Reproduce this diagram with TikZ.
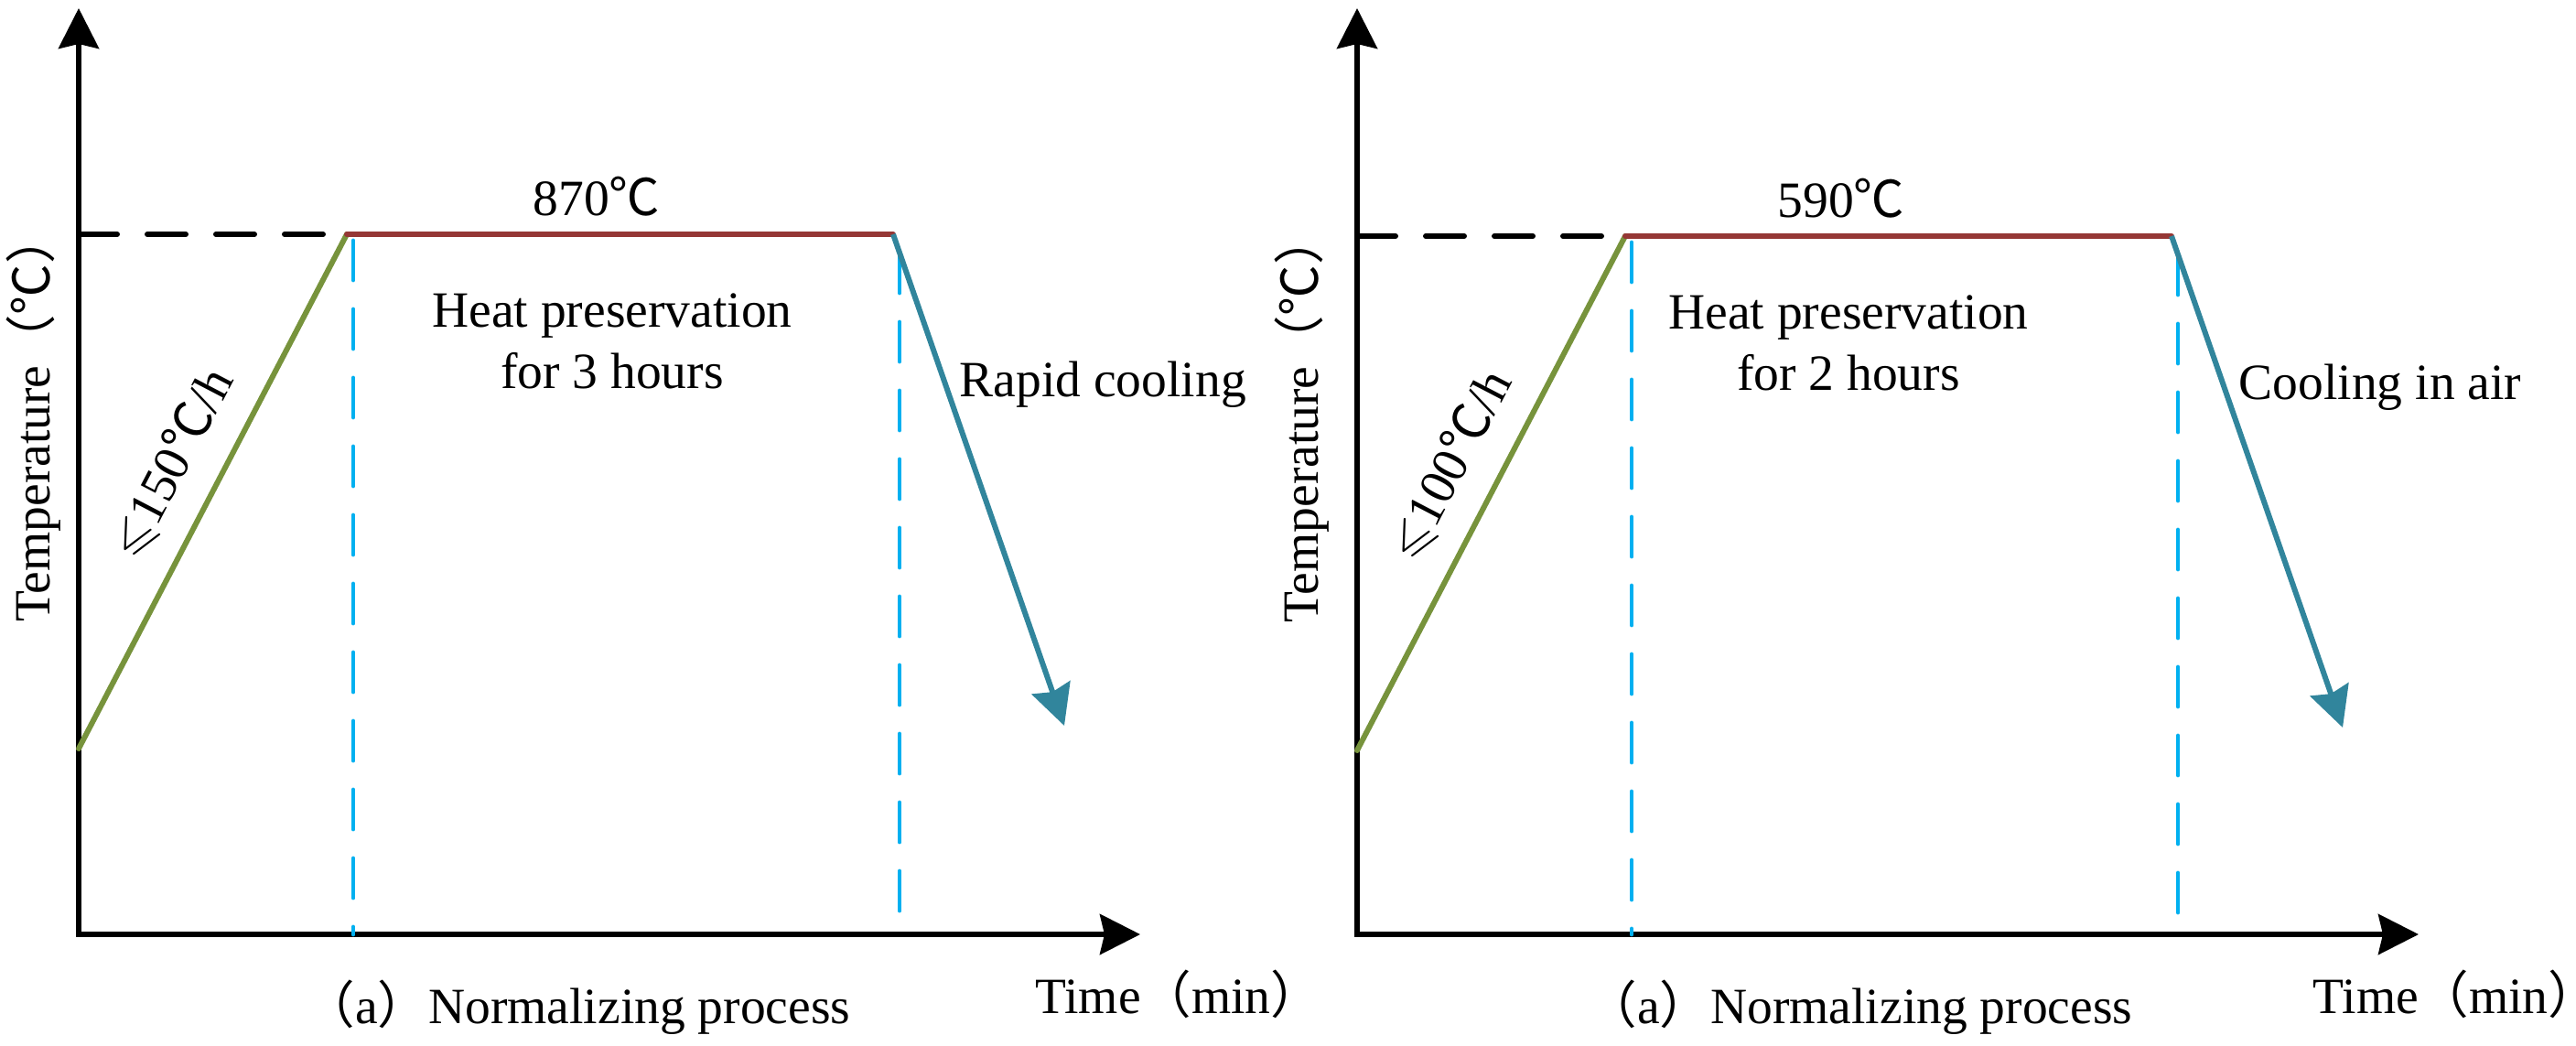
\documentclass[tikz,border=0pt]{standalone}
\usepackage{amssymb}
\usepackage{fontspec}
\setmainfont{Liberation Serif}
\newfontfamily\cjk{Noto Sans CJK SC}
\newcommand{\degC}{{\cjk ℃}}
\newcommand{\fwl}{{\cjk （}}
\newcommand{\fwr}{{\cjk ）}}
% closing paren at a line end, without its empty half
\newcommand{\fwrend}{\makebox[0.5em][l]{\cjk ）}}
\usetikzlibrary{arrows.meta}

\definecolor{rampc}{HTML}{77933C}
\definecolor{holdc}{HTML}{953735}
\definecolor{coolc}{HTML}{31859C}
\definecolor{vlinec}{HTML}{00B0F0}

\begin{document}
\begin{tikzpicture}

\tikzset{axis/.style = {<->,>={Stealth[length=0.44cm,width=0.44cm,inset=0.05cm]},line width=1.7pt}}
\tikzset{guide/.style = {line width=1.7pt,line cap=round,dash pattern=on 0.42cm off 0.33cm}}
\tikzset{vline/.style = {draw=vlinec,line width=1.4pt,line cap=round,dash pattern=on 0.43cm off 0.32cm}}
\tikzset{ramp/.style = {draw=rampc,line width=1.7pt,line cap=round}}
\tikzset{hold/.style = {draw=holdc,line width=1.7pt,line cap=round}}
\tikzset{cool/.style = {->,>={Stealth[length=0.44cm,width=0.44cm,inset=0.05cm]},draw=coolc,line width=1.7pt}}
\tikzset{lbl/.style = {font=\fontsize{15.8}{19}\selectfont,inner sep=0pt}}

\useasboundingbox (0,0) rectangle (28.15,11.42);

% left panel
\coordinate (o1) at (0.86,1.21);
\coordinate (ytop1) at (0.86,11.33);
\coordinate (xtip1) at (12.46,1.21);
\coordinate (t1) at (0.86,8.86);
\coordinate (a1) at (0.86,3.24);
\coordinate (b1) at (3.79,8.86);
\coordinate (c1) at (9.76,8.86);
\coordinate (d1) at (11.63,3.49);
\coordinate (p1) at (3.86,8.79);
\coordinate (q1) at (3.86,1.21);
\coordinate (r1) at (9.83,8.65);
\coordinate (s1) at (9.83,1.21);

\draw[axis] (ytop1) -- (o1) -- (xtip1);
\draw[guide] (t1) -- (b1);
\draw[vline] (p1) -- (q1);
\draw[vline] (r1) -- (s1);
\draw[ramp] (a1) -- (b1) node[lbl,pos=0.51,sloped,above=0.25cm] (rate1) {\(\leqslant\)150\degC/h};
\draw[hold] (b1) -- (c1);
\draw[cool] (c1) -- (d1);

\node[lbl,anchor=base] (temp1) at (6.52,9.07) {870\degC};
\node[lbl,align=center] (keep1) at (6.69,7.69) {Heat preservation\\for 3 hours};
\node[lbl,anchor=base west] (rapid1) at (10.48,7.09) {Rapid cooling};
\node[lbl,rotate=90,anchor=base] (ylab1) at (0.55,6.72) {Temperature\fwl\degC\fwrend};
\node[lbl,anchor=base] (xlab1) at (12.74,0.35) {Time\fwl min\fwrend};
\node[lbl,anchor=base] (cap1) at (6.31,0.24) {\fwl a\fwr Normalizing process};

% right panel
\coordinate (o2) at (14.83,1.21);
\coordinate (ytop2) at (14.83,11.33);
\coordinate (xtip2) at (26.43,1.21);
\coordinate (t2) at (14.83,8.84);
\coordinate (a2) at (14.83,3.22);
\coordinate (b2) at (17.76,8.84);
\coordinate (c2) at (23.73,8.84);
\coordinate (d2) at (25.60,3.47);
\coordinate (p2) at (17.83,8.77);
\coordinate (q2) at (17.83,1.21);
\coordinate (r2) at (23.80,8.63);
\coordinate (s2) at (23.80,1.21);

\draw[axis] (ytop2) -- (o2) -- (xtip2);
\draw[guide] (t2) -- (b2);
\draw[vline] (p2) -- (q2);
\draw[vline] (r2) -- (s2);
\draw[ramp] (a2) -- (b2) node[lbl,pos=0.51,sloped,above=0.25cm] (rate2) {\(\leqslant\)100\degC/h};
\draw[hold] (b2) -- (c2);
\draw[cool] (c2) -- (d2);

\node[lbl,anchor=base] (temp2) at (20.12,9.05) {590\degC};
\node[lbl,align=center] (keep2) at (20.20,7.67) {Heat preservation\\for 2 hours};
\node[lbl,anchor=base west] (air2) at (24.46,7.06) {Cooling in air};
\node[lbl,rotate=90,anchor=base] (ylab2) at (14.40,6.71) {Temperature\fwl\degC\fwrend};
\node[lbl,anchor=base] (xlab2) at (26.70,0.35) {Time\fwl min\fwrend};
\node[lbl,anchor=base] (cap2) at (20.32,0.24) {\fwl a\fwr Normalizing process};

\end{tikzpicture}
\end{document}
